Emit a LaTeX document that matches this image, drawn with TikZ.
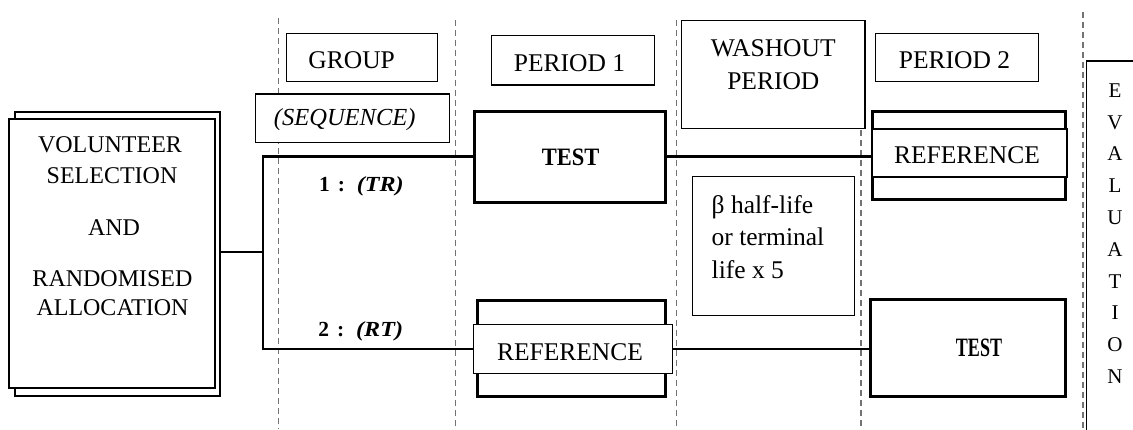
\documentclass[tikz,border=0pt]{standalone}
\usepackage{fontspec}
\setmainfont{Liberation Serif}
\usepackage{graphicx}
\begin{document}
\begin{tikzpicture}[x=1pt,y=-1pt,
  every node/.style={inner sep=0pt, outer sep=0pt},
  thinbox/.style={draw, line width=1.5pt, fill=white, rectangle},
  thickbox/.style={draw, line width=3pt, fill=white, rectangle},
  conn/.style={line width=2.4pt},
  sepline/.style={draw=black!55, line width=1.3pt, dash pattern=on 6pt off 4pt},
  txt/.style={font=\fontsize{25.5}{30}\selectfont, anchor=base},
  vtxt/.style={font=\fontsize{24}{30}\selectfont, anchor=base},
  ltxt/.style={font=\fontsize{25.5}{30}\selectfont, anchor=base west},
  evtxt/.style={font=\fontsize{21}{25}\selectfont, anchor=base},
  grp/.style={font=\fontsize{21.5}{25}\selectfont\bfseries, anchor=base west},
  tst/.style={font=\fontsize{25}{30}\selectfont\bfseries, anchor=base}
]
\useasboundingbox (0,0) rectangle (1133,429);

% dashed period separators
\draw[sepline] (278.5,18) -- (278.5,429);
\draw[sepline] (455.5,20) -- (455.5,429);
\draw[sepline] (676.7,20) -- (676.7,429);
\draw[sepline] (861,20) -- (861,429);
\draw[sepline] (1083,12) -- (1083,429);

% volunteer box
\node[thickbox, line width=2.6pt, minimum width=205, minimum height=284] (volback) at (117.5,254) {};
\node[thinbox, minimum width=206, minimum height=269] (volfront) at (112,253.5) {};
\node[vtxt] (v1) at (110,152.7) {VOLUNTEER};
\node[vtxt] (v2) at (112,183.3) {SELECTION};
\node[vtxt] (v3) at (114,235) {AND};
\node[vtxt] (v4) at (112.5,286.7) {RANDOMISED};
\node[vtxt] (v5) at (112.5,315) {ALLOCATION};

% header boxes
\node[thinbox, minimum width=150.6, minimum height=48.4] (group) at (362,57.5) {};
\node[txt] (groupt) at (351.7,68.3) {GROUP};
\node[thinbox, minimum width=193.6, minimum height=48.7] (seq) at (352.5,118.3) {};
\node[txt, font=\fontsize{24.5}{30}\selectfont\itshape] (seqt) at (344.7,125) {(SEQUENCE)};
\node[thinbox, minimum width=162.6, minimum height=49.3] (p1) at (573,60.3) {};
\node[txt] (p1t) at (569.5,71) {PERIOD 1};
\node[thinbox, minimum width=183.3, minimum height=107.6] (wash) at (773.3,74.5) {};
\node[txt] (washt1) at (773.3,56.7) {WASHOUT};
\node[txt] (washt2) at (773.3,89.3) {PERIOD};
\node[thinbox, minimum width=162.6, minimum height=48.4] (p2) at (957,57.5) {};
\node[txt] (p2t) at (954.5,68.3) {PERIOD 2};

% period 1
\node[thickbox, minimum width=191, minimum height=91] (testA) at (569.5,156.5) {};
\node[tst] (testAt) at (570.7,165) {\scalebox{0.9}[1]{TEST}};
\node[thickbox, minimum width=188.4, minimum height=96] (refAout) at (571.5,348) {};
\node[thinbox, minimum width=199.4, minimum height=49] (refAin) at (573,348.8) {};
\node[txt] (refAt) at (570,360) {REFERENCE};

% washout note
\node[thinbox, minimum width=162, minimum height=139] (beta) at (773.3,246.2) {};
\node[ltxt] (b1) at (711.7,213.3) {β half-life};
\node[ltxt] (b2) at (711.7,245.8) {or terminal};
\node[ltxt] (b3) at (711.7,278.3) {life x 5};

% period 2
\node[thickbox, minimum width=193, minimum height=88.3] (refBout) at (968.5,155.8) {};
\node[thinbox, minimum width=195, minimum height=48] (refBin) at (969.5,153) {};
\node[txt] (refBt) at (967,163.3) {REFERENCE};
\node[thickbox, minimum width=195, minimum height=96.7] (testB) at (968.2,348.3) {};
\node[tst, font=\fontsize{26.5}{30}\selectfont\bfseries] (testBt) at (979,356.7) {\scalebox{0.68}[1]{TEST}};

% evaluation
\node[thinbox, anchor=north west, minimum width=80, minimum height=420] (eval) at (1086.7,61) {};
\foreach \L [count=\i from 0] in {E,V,A,L,U,A,T,I,O,N}
  \node[evtxt] (ev\i) at (1115,97.3+31.8*\i) {\L};

% group labels
\node[grp] (g1) at (319,191.7) {1\hspace{8pt}:\hspace{12pt}\scalebox{1.12}[1]{\textit{(TR)}}};
\node[grp] (g2) at (318.3,336.7) {2\hspace{8pt}:\hspace{12pt}\scalebox{1.12}[1]{\textit{(RT)}}};

% connectors
\coordinate (trunk) at (262.7,252);
\draw[conn] (trunk -| volback.east) -- (trunk);
\draw[conn] (testA.west) -- (testA.west -| trunk) -- (refAin.west -| trunk) -- (refAin.west);
\draw[conn] (testA.east) -- (testA.east -| refBin.west);
\draw[conn] (refAin.east) -- (refAin.east -| testB.west);
\end{tikzpicture}
\end{document}
